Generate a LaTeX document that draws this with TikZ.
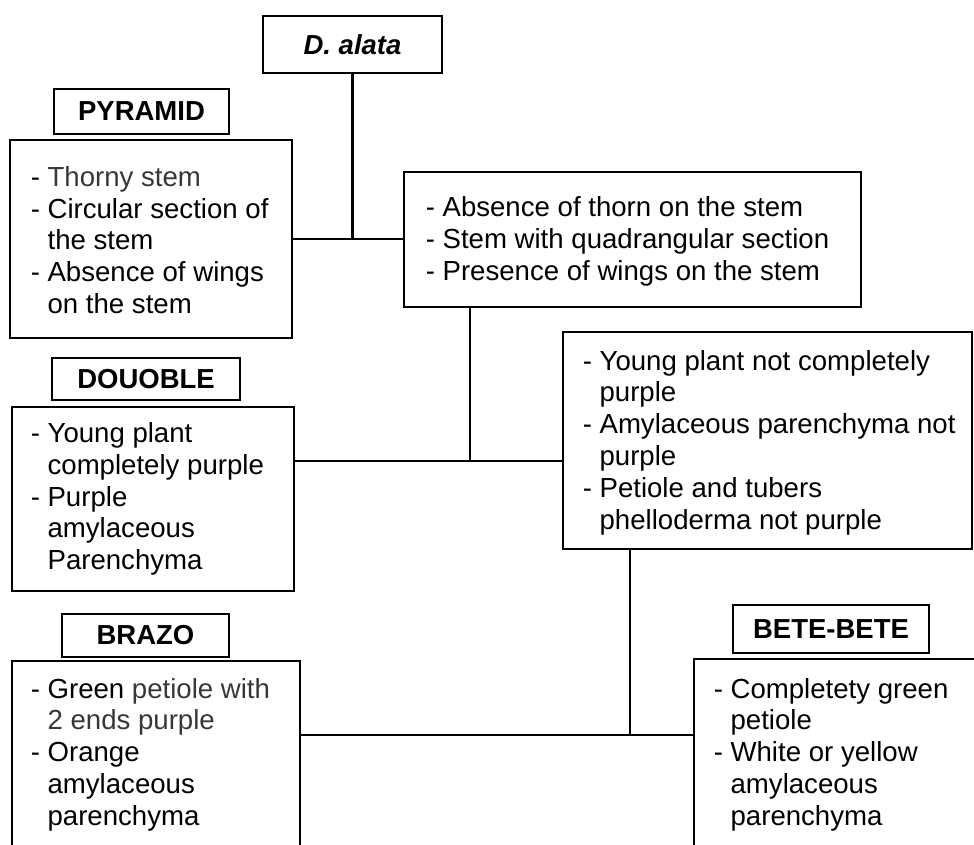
\documentclass[tikz,border=0pt]{standalone}
\usepackage{fontspec}
\setmainfont{Liberation Sans}
\usetikzlibrary{calc}
\definecolor{txtgray}{RGB}{55,55,55}
\newcommand{\cnt}{\hphantom{-\ }}
\begin{document}
\begin{tikzpicture}[x=1pt,y=-1pt,
  box/.style={draw, line width=2.9pt, rectangle, inner sep=0pt},
  lab/.style={draw, line width=2.9pt, rectangle, inner sep=0pt, font=\bfseries\fontsize{27.5}{31.8}\selectfont},
  body/.style={anchor=west, inner sep=0pt, align=left, font=\fontsize{27.6}{31.8}\selectfont},
  conn/.style={line width=2.9pt}]
\useasboundingbox (0,0) rectangle (974,844);
\clip (0,0) rectangle (974,844);

% title and labels
\node[lab, minimum width=179pt, minimum height=57pt] (dal) at (352.5,44.5) {\itshape D. alata};
\node[lab, minimum width=175pt, minimum height=45pt] (pyr) at (141.5,111.5) {PYRAMID};
\node[lab, minimum width=188pt, minimum height=42pt] (dou) at (146,379) {DOUOBLE};
\node[lab, minimum width=167pt, minimum height=43pt] (bra) at (145.5,635.5) {BRAZO};
\node[lab, minimum width=196pt, minimum height=48pt] (bet) at (831,629) {BETE-BETE};

% boxes
\node[box, minimum width=282pt, minimum height=198pt] (b1) at (151,239) {};
\node[box, minimum width=457pt, minimum height=135pt] (r1) at (632.5,239.5) {};
\node[box, minimum width=282pt, minimum height=184pt] (b2) at (153,499) {};
\node[box, minimum width=409pt, minimum height=217pt] (r2) at (767.5,440.5) {};
\node[box, minimum width=288pt, minimum height=185pt] (b3) at (156,753.5) {};
\node[box, minimum width=284pt, minimum height=187pt] (r3) at (836,752.5) {};

% texts
\node[body] (t1) at ($(b1.west)+(22,1)$) {- {\color{txtgray}Thorny stem}\\ - Circular section of\\ \cnt the stem\\ - Absence of wings\\ \cnt on the stem};
\node[body] (tr1) at ($(r1.west)+(23,2)$) {- Absence of thorn on the stem\\ - Stem with quadrangular section\\ - Presence of wings on the stem};
\node[body] (t2) at ($(b2.west)+(20,0)$) {- Young plant\\ \cnt completely purple\\ - Purple\\ \cnt amylaceous\\ \cnt Parenchyma};
\node[body] (tr2) at ($(r2.west)+(21,2)$) {- Young plant not completely\\ \cnt purple\\ - Amylaceous parenchyma not\\ \cnt purple\\ - Petiole and tubers\\ \cnt phelloderma not purple};
\node[body] (t3) at ($(b3.west)+(20,1)$) {- Green {\color{txtgray}petiole with}\\ \cnt{\color{txtgray}2 ends purple}\\ - Orange\\ \cnt amylaceous\\ \cnt parenchyma};
\node[body] (tr3) at ($(r3.west)+(21,2)$) {- Completety green\\ \cnt petiole\\ - White or yellow\\ \cnt amylaceous\\ \cnt parenchyma};

% connectors
\draw[conn] (b1.east) -- (b1.east -| r1.west);
\draw[conn] (dal.south) -- (dal.south |- b1.east);
\coordinate (j2) at (470,461);
\draw[conn] (r1.south -| j2) -- (j2);
\draw[conn] (b2.east |- j2) -- (r2.west |- j2);
\coordinate (j3) at (630,735);
\draw[conn] (r2.south -| j3) -- (j3);
\draw[conn] (b3.east |- j3) -- (r3.west |- j3);
\end{tikzpicture}
\end{document}
